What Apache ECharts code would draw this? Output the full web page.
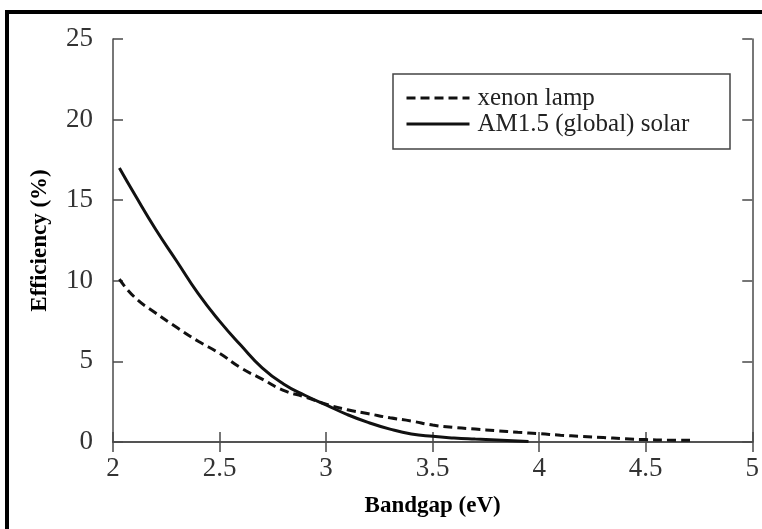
<!DOCTYPE html>
<html lang="en">
  <head>
    <meta charset="utf-8">
    <title>Efficiency vs Bandgap</title>
    <script src="https://cdn.jsdelivr.net/npm/echarts@6/dist/echarts.min.js"></script>
    <style>
      html, body { margin: 0; padding: 0; background: #fff; }
      #chart { width: 762px; height: 529px; }
    </style>
  </head>
  <body>
    <div id="chart"></div>
    <script>
      // data
      var xenonX = [2.03, 2.1, 2.2, 2.3, 2.4, 2.5, 2.6, 2.7, 2.8, 2.9, 3.0, 3.1, 3.2, 3.3, 3.4, 3.5, 3.6, 3.7, 3.8, 3.9, 4.0, 4.1, 4.2, 4.3, 4.4, 4.5, 4.6, 4.72];
      var xenonY = [10.1, 9.0, 8.0, 7.1, 6.25, 5.5, 4.6, 3.9, 3.2, 2.8, 2.35, 2.0, 1.75, 1.5, 1.3, 1.05, 0.9, 0.8, 0.7, 0.6, 0.52, 0.42, 0.35, 0.28, 0.2, 0.15, 0.12, 0.1];
      var solarX = [2.03, 2.1, 2.2, 2.3, 2.4, 2.5, 2.6, 2.7, 2.8, 2.9, 3.0, 3.1, 3.2, 3.3, 3.4, 3.5, 3.6, 3.7, 3.8, 3.9, 3.95];
      var solarY = [17.0, 15.4, 13.2, 11.2, 9.2, 7.5, 6.0, 4.6, 3.6, 2.9, 2.3, 1.7, 1.2, 0.8, 0.5, 0.35, 0.25, 0.18, 0.12, 0.06, 0.03];
      var seriesNames = ['xenon lamp', 'AM1.5 (global) solar'];

      function pairs(xs, ys) {
        var out = [];
        for (var i = 0; i < xs.length; i++) out.push([xs[i], ys[i]]);
        return out;
      }

      var serif = '"Liberation Serif", "DejaVu Serif", serif';
      var axisColor = '#4a4a4a';
      var labelStyle = { color: '#333', fontFamily: serif, fontSize: 27 };

      var myChart = echarts.init(document.getElementById('chart'));
      myChart.setOption({
        backgroundColor: '#fff',
        animation: false,
        textStyle: { fontFamily: serif },
        grid: { left: 113, right: 9, top: 39, bottom: 87 },
        legend: {
          left: 405, top: 85, padding: 0,
          orient: 'vertical',
          itemWidth: 63, itemHeight: 14, itemGap: 0,
          itemStyle: { opacity: 0 },
          lineStyle: { width: 3 },
          textStyle: { fontFamily: serif, fontSize: 25, color: '#222', lineHeight: 26, padding: [0, 0, 0, 3] },
          data: seriesNames
        },
        graphic: [
          // outer black frame of the picture
          { type: 'rect', shape: { x: 7, y: 12, width: 800, height: 560 },
            style: { fill: 'none', stroke: '#000', lineWidth: 4 }, z: 100 },
          // legend box
          { type: 'rect', shape: { x: 393, y: 74, width: 337, height: 75 },
            style: { fill: 'none', stroke: '#444', lineWidth: 1.5 }, z: 100 }
        ],
        xAxis: [{
          type: 'value', min: 2, max: 5, interval: 0.5,
          name: 'Bandgap (eV)', nameLocation: 'middle', nameGap: 53,
          nameTextStyle: { fontFamily: serif, fontSize: 23, fontWeight: 'bold', color: '#000' },
          axisLine: { lineStyle: { color: axisColor, width: 1.5 } },
          axisTick: { inside: true, length: 10, lineStyle: { color: axisColor, width: 1.5 } },
          axisLabel: Object.assign({ margin: 13 }, labelStyle),
          splitLine: { show: false }
        }, {
          type: 'value', min: 2, max: 5, interval: 0.5, position: 'top',
          axisLine: { lineStyle: { color: axisColor, width: 1.5 } },
          axisTick: { inside: true, length: 10, lineStyle: { color: axisColor, width: 1.5 } },
          axisLabel: { show: false },
          splitLine: { show: false }
        }],
        yAxis: [{
          type: 'value', min: 0, max: 25, interval: 5,
          name: 'Efficiency (%)', nameLocation: 'middle', nameGap: 61, nameRotate: 90,
          nameTextStyle: { fontFamily: serif, fontSize: 23, fontWeight: 'bold', color: '#000' },
          axisLine: { show: true, lineStyle: { color: axisColor, width: 1.5 } },
          axisTick: { show: true, inside: true, length: 10, lineStyle: { color: axisColor, width: 1.5 } },
          axisLabel: Object.assign({ margin: 20 }, labelStyle),
          splitLine: { show: false }
        }, {
          type: 'value', min: 0, max: 25, interval: 5, position: 'right',
          axisLine: { show: true, lineStyle: { color: axisColor, width: 1.5 } },
          axisTick: { show: true, inside: true, length: 10, lineStyle: { color: axisColor, width: 1.5 } },
          axisLabel: { show: false },
          splitLine: { show: false }
        }],
        series: [{
          name: seriesNames[0],
          type: 'line',
          smooth: true,
          symbol: 'none',
          itemStyle: { color: '#111' },
          lineStyle: { color: '#111', width: 3, type: [9, 5] },
          data: pairs(xenonX, xenonY)
        }, {
          name: seriesNames[1],
          type: 'line',
          smooth: true,
          symbol: 'none',
          itemStyle: { color: '#111' },
          lineStyle: { color: '#111', width: 3 },
          data: pairs(solarX, solarY)
        }]
      });
    </script>
  </body>
</html>
